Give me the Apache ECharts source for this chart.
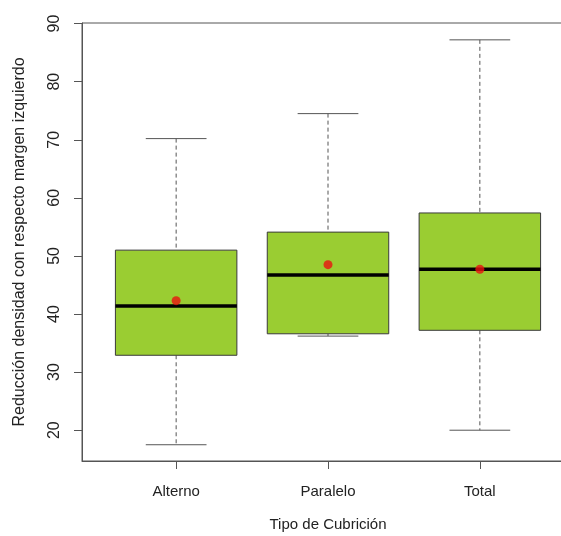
<!DOCTYPE html>
<html>
<head>
<meta charset="utf-8">
<script src="https://cdn.jsdelivr.net/npm/echarts@6/dist/echarts.min.js"></script>
<style>
  html, body { margin: 0; padding: 0; background: #fff; }
  #chart { width: 561px; height: 536px; }
</style>
</head>
<body>
<div id="chart"></div>
<script>
const categories = ["Alterno", "Paralelo", "Total"]
const lower = [17.5, 36.2, 20.0]
const q1 = [32.9, 36.6, 37.2]
const median = [41.4, 46.7, 47.7]
const q3 = [51.0, 54.1, 57.4]
const upper = [70.2, 74.5, 87.2]
const means = [42.3, 48.5, 47.7]
const yTicks = [20, 30, 40, 50, 60, 70, 80, 90]

const font = "Liberation Sans, Arial, sans-serif"
const axisColor = "#555"

const boxData = categories.map((c, i) => [i + 1, lower[i], q1[i], median[i], q3[i], upper[i]])
const meanData = categories.map((c, i) => [i + 1, means[i]])

const renderBox = (params, api) => {
  const x = api.value(0)
  const p = (v) => api.coord([x, v])
  const half = api.size([0.4, 0])[0]
  const capHalf = half / 2
  const lo = p(api.value(1)), b1 = p(api.value(2)), med = p(api.value(3))
  const b3 = p(api.value(4)), hi = p(api.value(5))
  const dash = { stroke: axisColor, lineWidth: 1, lineDash: [4, 3] }
  const solid = { stroke: axisColor, lineWidth: 1 }
  return {
    type: "group",
    children: [
      { type: "line", shape: { x1: hi[0], y1: hi[1], x2: b3[0], y2: b3[1] }, style: dash },
      { type: "line", shape: { x1: b1[0], y1: b1[1], x2: lo[0], y2: lo[1] }, style: dash },
      { type: "line", shape: { x1: hi[0] - capHalf, y1: hi[1], x2: hi[0] + capHalf, y2: hi[1] }, style: solid },
      { type: "line", shape: { x1: lo[0] - capHalf, y1: lo[1], x2: lo[0] + capHalf, y2: lo[1] }, style: solid },
      {
        type: "rect",
        shape: { x: b3[0] - half, y: b3[1], width: half * 2, height: b1[1] - b3[1] },
        style: { fill: "#9ACD32", stroke: "#3a3a3a", lineWidth: 1 }
      },
      {
        type: "line",
        shape: { x1: med[0] - half, y1: med[1], x2: med[0] + half, y2: med[1] },
        style: { stroke: "#000", lineWidth: 3.5 }
      }
    ]
  }
}

const myChart = echarts.init(document.getElementById("chart"))

myChart.setOption({
  animation: false,
  backgroundColor: "#fff",
  grid: {
    left: 82,
    width: 492,
    top: 23,
    bottom: 75,
    outerBoundsMode: "none",
    containLabel: false,
    show: true,
    borderColor: axisColor,
    borderWidth: 1
  },
  xAxis: {
    type: "value",
    min: 0.38,
    max: 3.62,
    name: "Tipo de Cubrición",
    nameLocation: "middle",
    nameGap: 56,
    nameTextStyle: { fontFamily: font, fontSize: 15, color: "#222" },
    axisLine: { show: true, lineStyle: { color: axisColor } },
    axisTick: { show: true, customValues: [1, 2, 3], length: 8, lineStyle: { color: axisColor } },
    axisLabel: {
      customValues: [1, 2, 3],
      formatter: (v) => categories[Math.round(v) - 1],
      margin: 23,
      fontFamily: font,
      fontSize: 15,
      color: "#222"
    },
    splitLine: { show: false }
  },
  yAxis: {
    type: "value",
    min: 14.7,
    max: 90.1,
    name: "Reducción densidad con respecto margen izquierdo",
    nameLocation: "middle",
    nameGap: 54,
    nameTextStyle: { fontFamily: font, fontSize: 16, color: "#222" },
    axisLine: { show: true, lineStyle: { color: axisColor } },
    axisTick: { show: true, customValues: yTicks, length: 8, lineStyle: { color: axisColor } },
    axisLabel: {
      customValues: yTicks,
      rotate: 90,
      margin: 19,
      fontFamily: font,
      fontSize: 16,
      color: "#222"
    },
    splitLine: { show: false }
  },
  series: [
    {
      type: "custom",
      renderItem: renderBox,
      data: boxData,
      encode: { x: 0, y: [1, 2, 3, 4, 5] },
      z: 2
    },
    {
      type: "scatter",
      data: meanData,
      symbol: "circle",
      symbolSize: 9,
      itemStyle: { color: "#e8130f" },
      z: 5
    }
  ]
})
</script>
</body>
</html>
